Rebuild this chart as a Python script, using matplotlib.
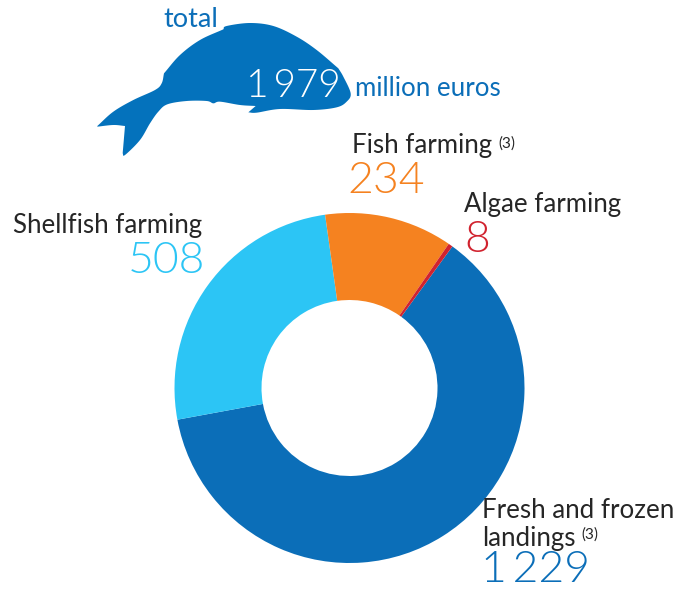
import matplotlib
matplotlib.use("Agg")
import matplotlib.pyplot as plt
import numpy as np
from matplotlib.patches import Polygon

categories = ["Fresh and frozen landings", "Shellfish farming", "Fish farming", "Algae farming"]
values = [1229, 508, 234, 8]
value_labels = ["1\u2009229", "508", "234", "8"]
colors = ["#0B6EB8", "#2CC5F5", "#F58220", "#D1232F"]
total_label = "1\u2009979"

W, H = 687, 589
plt.rcParams["font.family"] = ["Lato", "DejaVu Sans"]
fig = plt.figure(figsize=(W / 100, H / 100), dpi=100)
ax = fig.add_axes([0, 0, 1, 1])

ax.pie(values, colors=colors, startangle=54, counterclock=False,
       center=(349.5, H - 388), radius=175,
       wedgeprops=dict(width=87, linewidth=0), frame=False)
ax.set_xlim(0, W)
ax.set_ylim(0, H)
ax.set_aspect("equal")
ax.axis("off")

# Decorative fish silhouette: smooth runs of outline points joined at corners
fish_runs = [
    [(52,378),(100,335),(160,300),(225,270),(245,250),(252,220)],
    [(252,220),(300,165),(360,120),(430,88)],
    [(430,88),(440,78),(510,69),(580,78),(650,110),(710,150),(775,205)],
    [(775,205),(790,230),(812,280),(800,305),(770,322),(700,330),(600,327),(530,338),(505,337)],
    [(505,337),(527,318)],
    [(527,318),(480,315),(420,305),(400,310),(380,303),(320,303),(262,313),(235,335),(210,370),(180,420),(135,465),(128,460)],
    [(128,460),(135,378)],
    [(135,378),(100,375),(52,380)],
]

def smooth(run, n=12):
    p = np.array(run, float)
    if len(p) < 3:
        return p
    q = np.vstack([2 * p[0] - p[1], p, 2 * p[-1] - p[-2]])
    out = []
    for i in range(1, len(q) - 2):
        for t in np.linspace(0, 1, n, endpoint=False):
            out.append(0.5 * (2 * q[i] + (q[i + 1] - q[i - 1]) * t
                              + (2 * q[i - 1] - 5 * q[i] + 4 * q[i + 1] - q[i + 2]) * t ** 2
                              + (3 * q[i] - q[i - 1] - 3 * q[i + 1] + q[i + 2]) * t ** 3))
    out.append(p[-1])
    return np.array(out)

outline = np.vstack([smooth(r) for r in fish_runs])
ax.add_patch(Polygon(np.c_[80 + outline[:, 0] / 3, H - outline[:, 1] / 3], closed=True,
                     facecolor="#0472BC", edgecolor="none"))

def T(x, y, s, size, color, ha="left", **kw):
    ax.text(x, H - y, s, fontsize=size, color=color, ha=ha, va="baseline", **kw)

dark = "#262626"
blue = "#0B6EB8"
L = 18.6
N = 32
W300 = 300
T(163, 27, "total", 19.5, blue)
T(246, 97, total_label, 28, "white", fontweight=W300)
T(355, 96, "million euros", L, blue)

T(352, 153, "Fish farming", L, dark)
T(498, 148, "(3)", 11, dark)
T(347, 193, value_labels[2], N, colors[2], fontweight=W300)

T(464, 212, "Algae farming", L, dark)
T(464, 252, value_labels[3], N, colors[3], fontweight=W300)

T(13, 233, "Shellfish farming", L, dark)
T(128, 273, value_labels[1], N, colors[1], fontweight=W300)

T(482, 518, "Fresh and frozen", L, dark)
T(482, 546, "landings", L, dark)
T(581, 539, "(3)", 11, dark)
T(481, 582, value_labels[0], N, colors[0], fontweight=W300)

fig.savefig("out.png", dpi=100)
